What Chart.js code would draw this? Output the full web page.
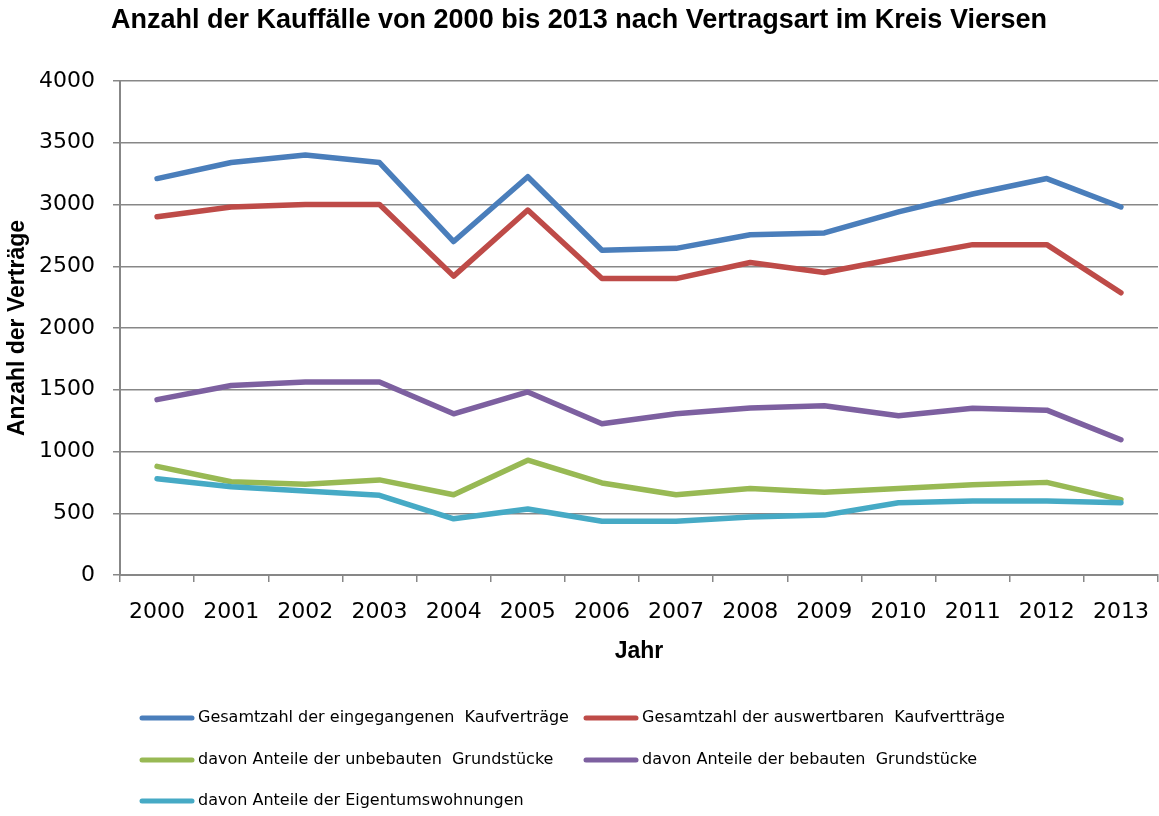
<!DOCTYPE html>
<html>
<head>
<meta charset="utf-8">
<script src="https://cdn.jsdelivr.net/npm/chart.js@4"></script>
<style>
  body { margin: 0; background: #fff; }
  #wrap { width: 1159px; height: 816px; position: relative; }
</style>
</head>
<body>
<div id="wrap"><canvas id="chart"></canvas></div>
<script>
const years = ['2000', '2001', '2002', '2003', '2004', '2005', '2006', '2007', '2008', '2009', '2010', '2011', '2012', '2013'];

const eingegangen = [3210, 3340, 3400, 3340, 2700, 3225, 2630, 2645, 2755, 2770, 2940, 3085, 3210, 2980];
const auswertbar = [2900, 2980, 3000, 3000, 2420, 2955, 2400, 2400, 2530, 2450, 2565, 2675, 2675, 2285];
const unbebaut = [880, 755, 735, 770, 650, 930, 745, 650, 700, 670, 700, 730, 750, 610];
const bebaut = [1420, 1535, 1562, 1562, 1305, 1482, 1225, 1305, 1352, 1370, 1290, 1350, 1335, 1095];
const wohnungen = [780, 715, 680, 645, 455, 535, 435, 435, 470, 485, 585, 600, 600, 585];

const seriesNames = [
    'Gesamtzahl der eingegangenen  Kaufverträge',
    'Gesamtzahl der auswertbaren  Kaufvertträge',
    'davon Anteile der unbebauten  Grundstücke',
    'davon Anteile der bebauten  Grundstücke',
    'davon Anteile der Eigentumswohnungen'
];
const seriesColors = ['#4a7ebb', '#be4b48', '#98b954', '#7d60a0', '#46aac5'];
const seriesData = [eingegangen, auswertbar, unbebaut, bebaut, wohnungen];

const gridColor = '#878787';

// Legende von Hand zeichnen: zwei feste Spalten wie im Original
const fixedLegend = {
    id: 'fixedLegend',
    afterDraw(chart) {
        const ctx = chart.ctx;
        const cols = [140, 584];
        const rows = [718, 760, 801];
        ctx.save();
        ctx.font = '16px "DejaVu Sans"';
        ctx.textBaseline = 'middle';
        ctx.textAlign = 'left';
        chart.data.datasets.forEach((ds, i) => {
            const x = cols[i % 2];
            const y = rows[Math.floor(i / 2)];
            ctx.strokeStyle = ds.borderColor;
            ctx.lineWidth = 5;
            ctx.lineCap = 'round';
            ctx.beginPath();
            ctx.moveTo(x + 2, y);
            ctx.lineTo(x + 52, y);
            ctx.stroke();
            ctx.fillStyle = '#000';
            ctx.fillText(ds.label, x + 58, y);
        });
        ctx.restore();
    }
};

new Chart(document.getElementById('chart'), {
    type: 'line',
    data: {
        labels: years,
        datasets: seriesData.map((values, i) => ({
            label: seriesNames[i],
            data: values,
            borderColor: seriesColors[i],
            backgroundColor: seriesColors[i],
            borderWidth: 5.5,
            borderCapStyle: 'round',
            borderJoinStyle: 'round',
            pointRadius: 0,
            tension: 0,
            fill: false,
            order: 4 - i
        }))
    },
    options: {
        responsive: true,
        maintainAspectRatio: false,
        animation: false,
        layout: { padding: { left: 0, right: 1, top: 0, bottom: 151 } },
        plugins: {
            legend: { display: false },
            tooltip: { enabled: false },
            title: {
                display: true,
                text: 'Anzahl der Kauffälle von 2000 bis 2013 nach Vertragsart im Kreis Viersen',
                color: '#000',
                font: { family: '"Liberation Sans"', size: 27, weight: 'bold' },
                padding: { top: 4, bottom: 44.6 }
            }
        },
        scales: {
            x: {
                offset: true,
                afterFit: (scale) => {
                    scale.height = 90;
                    scale.paddingLeft = 0;
                    scale.paddingRight = 0;
                },
                grid: {
                    offset: true,
                    drawOnChartArea: false,
                    drawTicks: true,
                    tickLength: 7,
                    color: gridColor,
                    lineWidth: 1.5
                },
                border: { display: true, color: gridColor, width: 2 },
                ticks: {
                    color: '#000',
                    padding: 17,
                    maxRotation: 0,
                    font: { family: '"DejaVu Sans"', size: 22 }
                },
                title: {
                    display: true,
                    text: 'Jahr',
                    color: '#000',
                    font: { family: '"Liberation Sans"', size: 23, weight: 'bold' },
                    padding: { top: 0, bottom: 0 }
                }
            },
            y: {
                min: 0,
                max: 4000,
                afterFit: (scale) => { scale.width = 120; },
                grid: {
                    color: gridColor,
                    lineWidth: 1.5,
                    tickLength: 7
                },
                border: { display: true, color: gridColor, width: 2 },
                ticks: {
                    stepSize: 500,
                    color: '#000',
                    padding: 18,
                    font: { family: '"DejaVu Sans"', size: 22 },
                    callback: (value) => String(value)
                },
                title: {
                    display: true,
                    text: 'Anzahl der Verträge',
                    color: '#000',
                    font: { family: '"Liberation Sans"', size: 23, weight: 'bold' },
                    padding: { top: 4, bottom: 0 }
                }
            }
        }
    },
    plugins: [fixedLegend]
});
</script>
</body>
</html>
